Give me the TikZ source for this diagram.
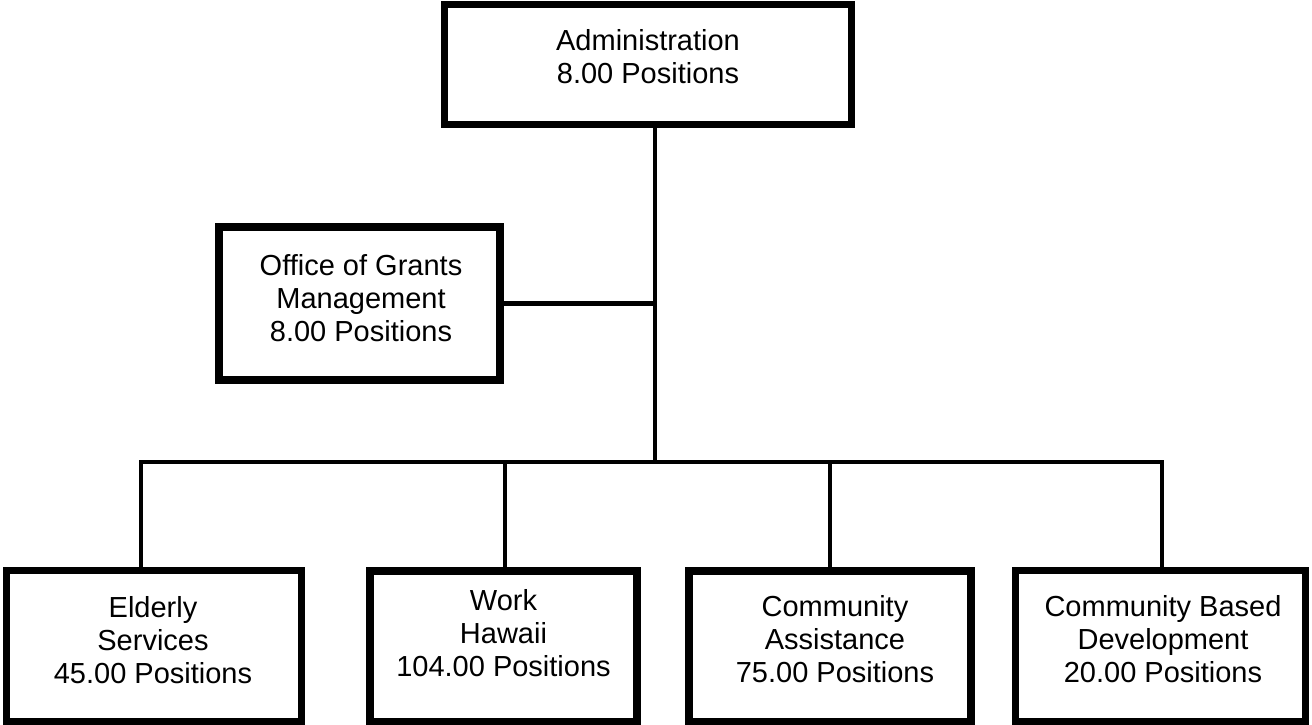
\documentclass[tikz,border=0pt]{standalone}
\usepackage{fontspec}
\setmainfont{Liberation Sans}
\begin{document}
\begin{tikzpicture}[x=1pt,y=-1pt,
  unitbox/.style={draw=black, line width=#1, fill=white, inner sep=0pt},
  unitbox/.default=7pt,
  label text/.style={align=center, inner sep=0pt, font=\fontsize{29}{33}\selectfont},
  link/.style={draw=black, line width=4.5pt, line join=miter}
]
\useasboundingbox (0,0) rectangle (1312,725);

% boxes
\node[unitbox=7pt, minimum width=407pt, minimum height=120pt] (adm) at (648,64.5) {};
\node[unitbox=8pt, minimum width=281pt, minimum height=153pt] (ogm) at (359.5,303.5) {};
\node[unitbox=7pt, minimum width=295pt, minimum height=151pt] (eld) at (154,646) {};
\node[unitbox=8pt, minimum width=267pt, minimum height=151pt] (wrk) at (503,646) {};
\node[unitbox=8pt, minimum width=282.5pt, minimum height=151pt] (cas) at (829.75,646) {};
\node[unitbox=7pt, minimum width=290pt, minimum height=151pt] (cbd) at (1160,646) {};

% box texts
\node[label text] (admT) at (648,57) {Administration\\8.00 Positions};
\node[label text] (ogmT) at (361,298) {Office of Grants\\Management\\8.00 Positions};
\node[label text] (eldT) at (153,640) {Elderly\\Services\\45.00 Positions};
\node[label text] (wrkT) at (503.5,633) {Work\\Hawaii\\104.00 Positions};
\node[label text] (casT) at (835,639) {Community\\Assistance\\75.00 Positions};
\node[label text] (cbdT) at (1163,639) {Community Based\\Development\\20.00 Positions};

% connector points on the distribution bar
\coordinate (bus) at (655,462);
\coordinate (d1) at (141,462);
\coordinate (d2) at (505,462);
\coordinate (d3) at (830,462);
\coordinate (d4) at (1162,462);

% connectors
\draw[link] (adm.south -| bus) -- (bus);
\draw[link] (ogm.east) -- (ogm.east -| bus);
\draw[link] (eld.north -| d1) -- (d1) -- (d4) -- (cbd.north -| d4);
\draw[link] (d2) -- (wrk.north -| d2);
\draw[link] (d3) -- (cas.north -| d3);
\end{tikzpicture}
\end{document}
